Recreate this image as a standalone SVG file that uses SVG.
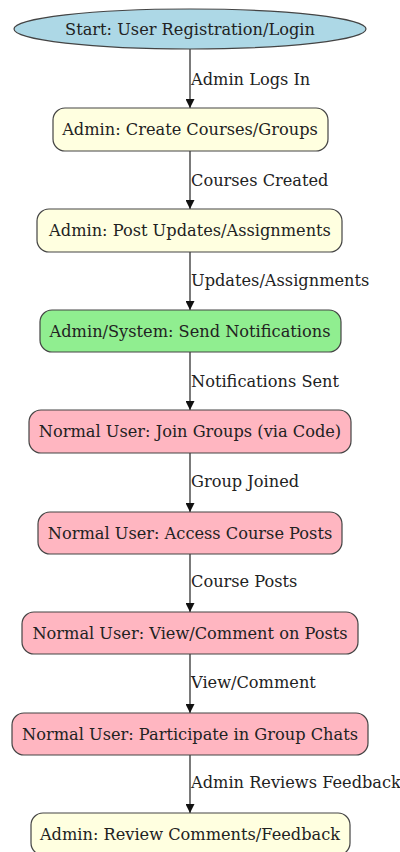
<svg xmlns="http://www.w3.org/2000/svg" width="400" height="852" viewBox="0 0 400 852">
<defs>
<style>
.n rect, .n ellipse { stroke: #444; stroke-width: 1.2; }
.t { font-family: "DejaVu Serif", serif; font-size: 16.2px; fill: #222; text-anchor: middle; dominant-baseline: central; }
.l { font-family: "DejaVu Serif", serif; font-size: 16.2px; fill: #222; dominant-baseline: central; }
.e { stroke: #333; stroke-width: 1.3; fill: none; marker-end: url(#ah); }
.y { fill: #ffffe0; } .g { fill: #90ee90; } .p { fill: #ffb6c1; } .b { fill: #add8e6; }
</style>
<marker id="ah" viewBox="0 0 10 10" refX="10" refY="5" markerWidth="9" markerHeight="9" markerUnits="userSpaceOnUse" orient="auto">
<path d="M0,0 L10,5 L0,10 z" fill="#111"/>
</marker>
</defs>
<rect width="400" height="852" fill="#fff"/>
<g id="edges">
<path class="e" d="M190,49 V108"/>
<path class="e" d="M190,151 V209"/>
<path class="e" d="M190,252 V310"/>
<path class="e" d="M190,352 V410"/>
<path class="e" d="M190,453 V512"/>
<path class="e" d="M190,554 V612"/>
<path class="e" d="M190,654 V713"/>
<path class="e" d="M190,755 V813"/>
<text class="l" x="191" y="79">Admin Logs In</text>
<text class="l" x="191" y="180">Courses Created</text>
<text class="l" x="191" y="280">Updates/Assignments</text>
<text class="l" x="191" y="381">Notifications Sent</text>
<text class="l" x="191" y="481">Group Joined</text>
<text class="l" x="191" y="581">Course Posts</text>
<text class="l" x="191" y="682">View/Comment</text>
<text class="l" x="191" y="782">Admin Reviews Feedback</text>
</g>
<g id="start" class="n"><ellipse class="b" cx="190" cy="29" rx="176" ry="20"/><text class="t" x="190" y="29">Start: User Registration/Login</text></g>
<g id="create" class="n"><rect class="y" x="53" y="108" width="275" height="43" rx="12"/><text class="t" x="190" y="129.5">Admin: Create Courses/Groups</text></g>
<g id="post" class="n"><rect class="y" x="37" y="209" width="305" height="43" rx="12"/><text class="t" x="190" y="230.5">Admin: Post Updates/Assignments</text></g>
<g id="notify" class="n"><rect class="g" x="40" y="310" width="301" height="42" rx="12"/><text class="t" x="190" y="331">Admin/System: Send Notifications</text></g>
<g id="join" class="n"><rect class="p" x="29" y="410" width="322" height="43" rx="12"/><text class="t" x="190" y="431.5">Normal User: Join Groups (via Code)</text></g>
<g id="access" class="n"><rect class="p" x="38" y="512" width="304" height="42" rx="12"/><text class="t" x="190" y="533">Normal User: Access Course Posts</text></g>
<g id="view" class="n"><rect class="p" x="22" y="612" width="336" height="42" rx="12"/><text class="t" x="190" y="633">Normal User: View/Comment on Posts</text></g>
<g id="chat" class="n"><rect class="p" x="12" y="713" width="356" height="42" rx="12"/><text class="t" x="190" y="734">Normal User: Participate in Group Chats</text></g>
<g id="review" class="n"><rect class="y" x="31" y="813" width="319" height="42" rx="12"/><text class="t" x="190" y="834">Admin: Review Comments/Feedback</text></g>
</svg>
